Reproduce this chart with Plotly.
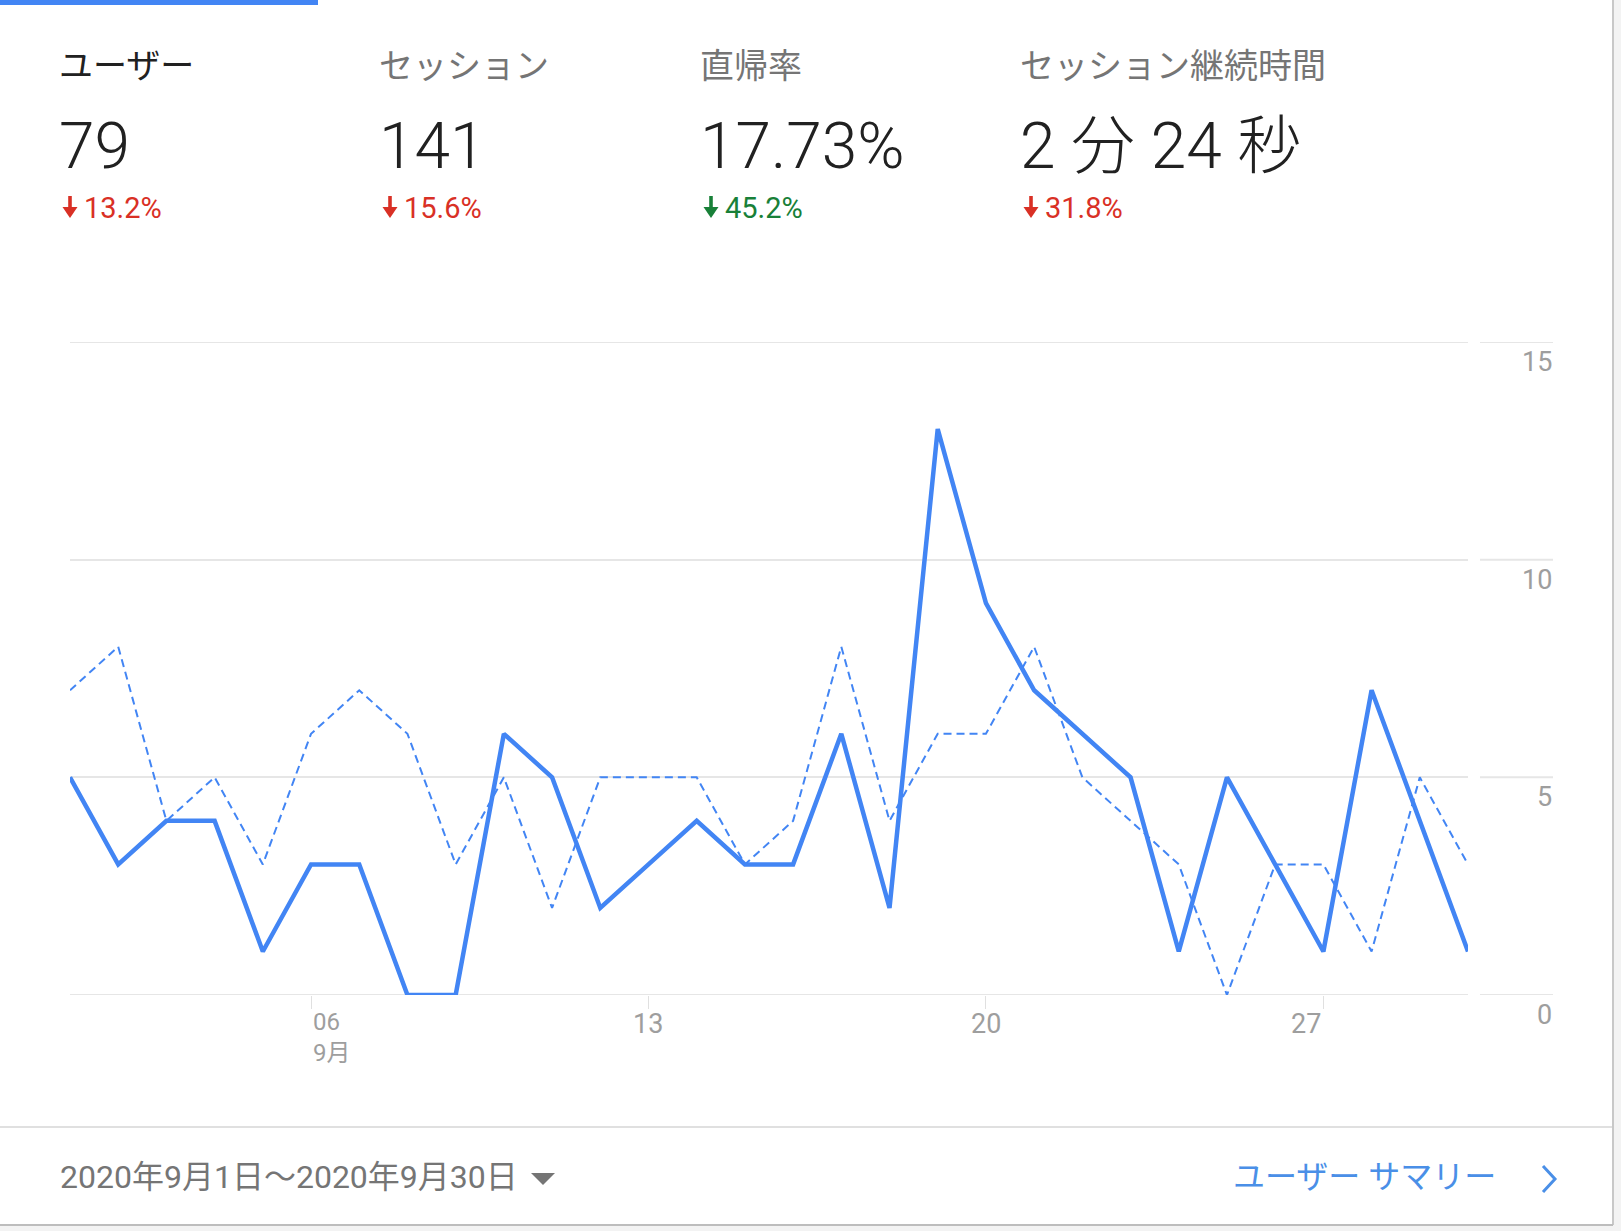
import plotly.graph_objects as go

# ---------------- data ----------------
days = list(range(1, 31))
users_current = [5, 3, 4, 4, 1, 3, 3, 0, 0, 6,
                 5, 2, 3, 4, 3, 3, 6, 2, 13, 9,
                 7, 6, 5, 1, 5, 3, 1, 7, 4, 1]
users_previous = [7, 8, 4, 5, 3, 6, 7, 6, 3, 5,
                  2, 5, 5, 5, 3, 4, 8, 4, 6, 6,
                  8, 5, 4, 3, 0, 3, 3, 1, 5, 3]

metric_labels = ["ユーザー", "セッション", "直帰率", "セッション継続時間"]
metric_values = ["79", "141", "17.73%", "2 分 24 秒"]
metric_changes = ["13.2%", "15.6%", "45.2%", "31.8%"]
change_colors = ["#d93025", "#d93025", "#188038", "#d93025"]
label_colors = ["#212121", "#757575", "#757575", "#757575"]

y_ticks = [0, 5, 10, 15]
x_tick_days = [6, 13, 20, 27]
x_tick_labels = ["06<br>9月", "13", "20", "27"]
x_tick_anchor = ["left", "center", "center", "right"]
date_range_text = "2020年9月1日〜2020年9月30日"
link_text = "ユーザー サマリー"

# ---------------- geometry ----------------
W, H = 1621, 1231
L, R, T, B = 70, W - 1468, 342, H - 995
PW, PH = W - L - R, H - T - B


def px(x):
    return (x - L) / PW


def py(y):
    return (H - B - y) / PH


BLUE = "#4285f4"
GRID = "#e6e6e6"
FONT = "Roboto, 'Noto Sans CJK JP', sans-serif"
FONT_LIGHT = "'Roboto Light', Roboto, 'Noto Sans CJK JP', sans-serif"

fig = go.Figure()
fig.add_trace(go.Scatter(
    x=days, y=users_previous, mode="lines",
    line=dict(color=BLUE, width=2, dash="8px,5px"),
    hoverinfo="skip", showlegend=False))
fig.add_trace(go.Scatter(
    x=days, y=users_current, mode="lines",
    line=dict(color=BLUE, width=4.5),
    hoverinfo="skip", showlegend=False))

annotations = []
shapes = []
col_x = [60, 380, 701, 1021]
for i in range(4):
    annotations.append(dict(
        text=metric_labels[i], x=px(col_x[i] - 3), y=py(66), xref="paper", yref="paper",
        xanchor="left", yanchor="middle", showarrow=False,
        font=dict(family=FONT, size=34, color=label_colors[i])))
    annotations.append(dict(
        text=metric_values[i], x=px(col_x[i] - 3), y=py(146), xref="paper", yref="paper",
        xanchor="left", yanchor="middle", showarrow=False,
        font=dict(family=FONT_LIGHT, size=64, color="#212121", weight=300)))
    # down arrow drawn as shaft + head
    ax = col_x[i] + 10
    c = change_colors[i]
    shapes.append(dict(type="rect", xref="paper", yref="paper",
                       x0=px(ax - 1.8), x1=px(ax + 1.8), y0=py(196), y1=py(210),
                       fillcolor=c, line=dict(width=0)))
    shapes.append(dict(type="path", xref="paper", yref="paper",
                       path=f"M {px(ax - 7.5)} {py(207)} L {px(ax + 7.5)} {py(207)} L {px(ax)} {py(218)} Z",
                       fillcolor=c, line=dict(width=0)))
    annotations.append(dict(
        text=metric_changes[i], x=px(col_x[i] + 22), y=py(208),
        xref="paper", yref="paper",
        xanchor="left", yanchor="middle", showarrow=False,
        font=dict(family=FONT, size=29, color=c)))

# y-axis labels (right side, under each gridline)
for v in y_ticks:
    annotations.append(dict(
        text=str(v), x=px(1554), y=v, xref="paper", yref="y", yshift=-20,
        xanchor="right", yanchor="middle", showarrow=False,
        font=dict(family=FONT, size=27, color="#9e9e9e")))

# x-axis labels
for d, lab, anc in zip(x_tick_days, x_tick_labels, x_tick_anchor):
    two = "<br>" in lab
    annotations.append(dict(
        text=lab, x=d, y=py(1037 if two else 1024), xref="x", yref="paper",
        xanchor=anc, yanchor="middle", align="left", showarrow=False,
        font=dict(family=FONT, size=24 if two else 27, color="#9e9e9e")))

# footer
annotations.append(dict(
    text=date_range_text, x=px(58), y=py(1177), xref="paper", yref="paper",
    xanchor="left", yanchor="middle", showarrow=False,
    font=dict(family=FONT, size=32, color="#757575")))
shapes.append(dict(type="path", xref="paper", yref="paper",
                   path=f"M {px(531)} {py(1173)} L {px(555)} {py(1173)} L {px(543)} {py(1185)} Z",
                   fillcolor="#757575", line=dict(width=0)))
annotations.append(dict(
    text=link_text, x=px(1498), y=py(1177), xref="paper", yref="paper",
    xanchor="right", yanchor="middle", showarrow=False,
    font=dict(family=FONT, size=32, color="#4a8fe7")))

# main gridlines at the range edges (0 and 15)
for v in (0, 15):
    shapes.append(dict(type="line", xref="paper", yref="y", layer="below",
                       x0=0, x1=1, y0=v, y1=v,
                       line=dict(color=GRID, width=2)))
# short grid segments by the y labels
for v in y_ticks:
    shapes.append(dict(type="line", xref="paper", yref="y",
                       x0=px(1480), x1=px(1553), y0=v, y1=v,
                       line=dict(color=GRID, width=2)))
# top blue tab bar
shapes.append(dict(type="rect", xref="paper", yref="paper",
                   x0=px(0), x1=px(318), y0=py(0), y1=py(5),
                   fillcolor=BLUE, line=dict(width=0)))
# separator above footer
shapes.append(dict(type="line", xref="paper", yref="paper",
                   x0=px(0), x1=px(1612), y0=py(1127), y1=py(1127),
                   line=dict(color="#e0e0e0", width=2)))
# card right edge + outside
shapes.append(dict(type="rect", xref="paper", yref="paper",
                   x0=px(1613), x1=px(W + 2), y0=py(-2), y1=py(H + 2),
                   fillcolor="#f3f3f3", line=dict(width=0)))
shapes.append(dict(type="line", xref="paper", yref="paper",
                   x0=px(1613), x1=px(1613), y0=py(0), y1=py(1225),
                   line=dict(color="#c8c8c8", width=2)))
# card bottom edge + outside
shapes.append(dict(type="rect", xref="paper", yref="paper",
                   x0=px(-2), x1=px(W + 2), y0=py(1226), y1=py(H + 2),
                   fillcolor="#f3f3f3", line=dict(width=0)))
shapes.append(dict(type="line", xref="paper", yref="paper",
                   x0=px(0), x1=px(1613), y0=py(1225), y1=py(1225),
                   line=dict(color="#bdbdbd", width=2)))
# chevron
cx0, cy0 = 1543, 1166
shapes.append(dict(type="path", xref="paper", yref="paper",
                   path=f"M {px(cx0)} {py(cy0)} L {px(cx0 + 12)} {py(cy0 + 13)} L {px(cx0)} {py(cy0 + 26)}",
                   line=dict(color="#4a8fe7", width=3)))

fig.update_layout(
    width=W, height=H,
    margin=dict(l=L, r=R, t=T, b=B, pad=0),
    paper_bgcolor="white", plot_bgcolor="white",
    font=dict(family=FONT),
    annotations=annotations, shapes=shapes,
    xaxis=dict(range=[1, 30], showgrid=False, zeroline=False, showline=False,
               tickvals=x_tick_days, ticks="outside", ticklen=13,
               tickcolor="#e0e0e0", tickwidth=1, showticklabels=False,
               fixedrange=True),
    yaxis=dict(range=[0, 15], tickvals=y_ticks, showgrid=True, gridcolor=GRID,
               gridwidth=2, zeroline=False, showline=False,
               showticklabels=False, fixedrange=True),
)

fig.write_html("out.html", config={"displayModeBar": False})
